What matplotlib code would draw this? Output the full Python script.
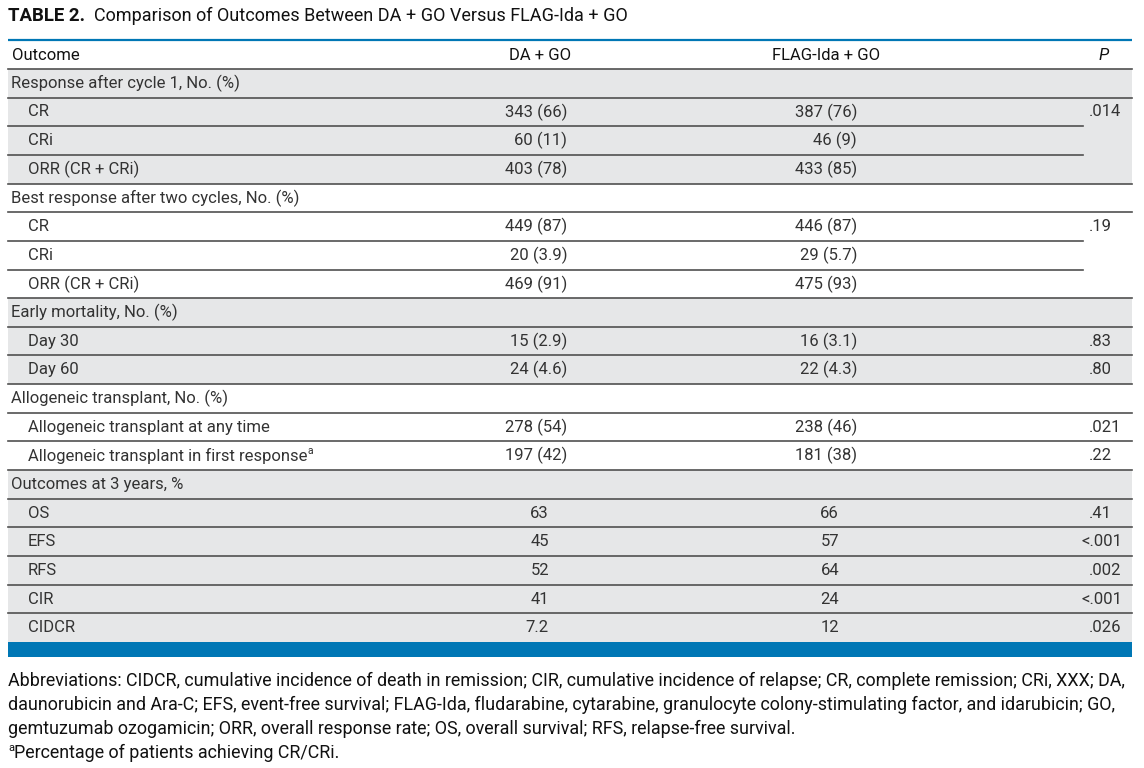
import matplotlib
matplotlib.use("Agg")
import matplotlib.pyplot as plt

plt.rcParams['font.family'] = ['Roboto', 'DejaVu Sans']

# datos de la tabla
title_bold = "TABLE 2."
title_rest = "Comparison of Outcomes Between DA + GO Versus FLAG-Ida + GO"
col_headers = ["Outcome", "DA + GO", "FLAG-Ida + GO", "P"]

group_titles = ["Response after cycle 1, No. (%)",
                "Best response after two cycles, No. (%)",
                "Early mortality, No. (%)",
                "Allogeneic transplant, No. (%)",
                "Outcomes at 3 years, %"]
group_items = [["CR", "CRi", "ORR (CR + CRi)"],
               ["CR", "CRi", "ORR (CR + CRi)"],
               ["Day 30", "Day 60"],
               ["Allogeneic transplant at any time", "Allogeneic transplant in first response"],
               ["OS", "EFS", "RFS", "CIR", "CIDCR"]]
da_values = [["343 (66)", "60 (11)", "403 (78)"],
             ["449 (87)", "20 (3.9)", "469 (91)"],
             ["15 (2.9)", "24 (4.6)"],
             ["278 (54)", "197 (42)"],
             ["63", "45", "52", "41", "7.2"]]
flag_values = [["387 (76)", "46 (9)", "433 (85)"],
               ["446 (87)", "29 (5.7)", "475 (93)"],
               ["16 (3.1)", "22 (4.3)"],
               ["238 (46)", "181 (38)"],
               ["66", "57", "64", "24", "12"]]
# un solo valor de P para todo el grupo = celda combinada
p_values = [[".014"], [".19"], [".83", ".80"], [".021", ".22"],
            [".41", "<.001", ".002", "<.001", ".026"]]
footnote_items = ["Allogeneic transplant in first response"]

footnote_lines = [
    "Abbreviations: CIDCR, cumulative incidence of death in remission; CIR, cumulative incidence of relapse; CR, complete remission; CRi, XXX; DA,",
    "daunorubicin and Ara-C; EFS, event-free survival; FLAG-Ida, fludarabine, cytarabine, granulocyte colony-stimulating factor, and idarubicin; GO,",
    "gemtuzumab ozogamicin; ORR, overall response rate; OS, overall survival; RFS, relapse-free survival.",
]
footnote_a = "Percentage of patients achieving CR/CRi."

# estilo
W, H = 1144, 768
txt = '#333333'
gray = '#e6e7e8'
line_c = '#505050'
blue = '#0077b5'
fs = 12        # texto de la tabla
fs_note = 12.9  # notas al pie
fs_title = 13.0

fig = plt.figure(figsize=(W / 100, H / 100), dpi=100)
ax = fig.add_axes([0, 0, 1, 1])
ax.set_xlim(0, W)
ax.set_ylim(H, 0)
ax.axis('off')

x0, x1 = 8, 1132
row_h = 28.65
top = 69

# titulo
t = ax.text(x0, 16, title_bold, fontsize=fs_title + 0.4, fontweight='bold', color='#111', va='center')
fig.canvas.draw()
r = fig.canvas.get_renderer()
bb = t.get_window_extent(r)
ax.text(bb.x1 + 9, 16, title_rest, fontsize=fs_title, color='#111', va='center')

# encabezado
ax.plot([x0, x1], [39.5, 39.5], color=blue, lw=1.6, solid_capstyle='butt')
ax.text(12, 55, col_headers[0], fontsize=fs, color='#111', va='center')
ax.text(540, 55, col_headers[1], fontsize=fs, color='#111', va='center', ha='center')
ax.text(826, 55, col_headers[2], fontsize=fs, color='#111', va='center', ha='center')
ax.text(1104, 55, col_headers[3], fontsize=fs, color='#111', va='center', ha='center', style='italic')
ax.plot([x0, x1], [top, top], color=line_c, lw=1.2)


def p_x(p):
    return 1081 if p.startswith('<') else 1089


row = 0
for g, title in enumerate(group_titles):
    n = len(group_items[g])
    y_start = top + row * row_h
    y_end = y_start + (n + 1) * row_h
    if g % 2 == 0:
        ax.fill_between([x0, x1], y_start, y_end, color=gray, lw=0, zorder=0)
    # fila del grupo
    yc = y_start + row_h / 2
    ax.text(11, yc, title, fontsize=fs, color=txt, va='center')
    ax.plot([x0, x1], [y_start + row_h] * 2, color=line_c, lw=1.2)
    merged = len(p_values[g]) == 1
    for i in range(n):
        yt = y_start + (i + 1) * row_h
        yc = yt + row_h / 2
        lab = group_items[g][i]
        tt = ax.text(28, yc, lab, fontsize=fs, color=txt, va='center')
        if lab in footnote_items:
            fig.canvas.draw()
            bb = tt.get_window_extent(fig.canvas.get_renderer())
            ax.text(bb.x1 + 0.5, yc - 5, "a", fontsize=7.5, color=txt, va='center')
        dv = da_values[g][i]
        fv = flag_values[g][i]
        if '(' in dv:
            ax.text(567, yc, dv, fontsize=fs, color=txt, va='center', ha='right')
            ax.text(857, yc, fv, fontsize=fs, color=txt, va='center', ha='right')
        else:
            ax.text(549, yc, dv, fontsize=fs, color=txt, va='center', ha='right')
            ax.text(839, yc, fv, fontsize=fs, color=txt, va='center', ha='right')
        if merged:
            if i == 0:
                p = p_values[g][0]
                ax.text(p_x(p), yc, p, fontsize=fs, color=txt, va='center')
        else:
            p = p_values[g][i]
            ax.text(p_x(p), yc, p, fontsize=fs, color=txt, va='center')
        yb = yt + row_h
        if i < n - 1:
            xe = 1083 if merged else x1
            ax.plot([x0, xe], [yb, yb], color=line_c, lw=1.2)
        elif g < len(group_titles) - 1:
            ax.plot([x0, x1], [yb, yb], color=line_c, lw=1.2)
    row += n + 1

# barra azul inferior
y_bot = top + row * row_h
ax.fill_between([x0, x1], y_bot, y_bot + 15, color=blue, lw=0)

# notas al pie
for k, line in enumerate(footnote_lines):
    ax.text(x0, 681 + 24 * k, line, fontsize=fs_note, color='#111', va='center')
ya = 681 + 24 * len(footnote_lines)
ax.text(x0, ya - 5, "a", fontsize=8, color='#111', va='center')
ax.text(x0 + 6, ya, footnote_a, fontsize=fs_note, color='#111', va='center')

fig.savefig("out.png", dpi=100)
